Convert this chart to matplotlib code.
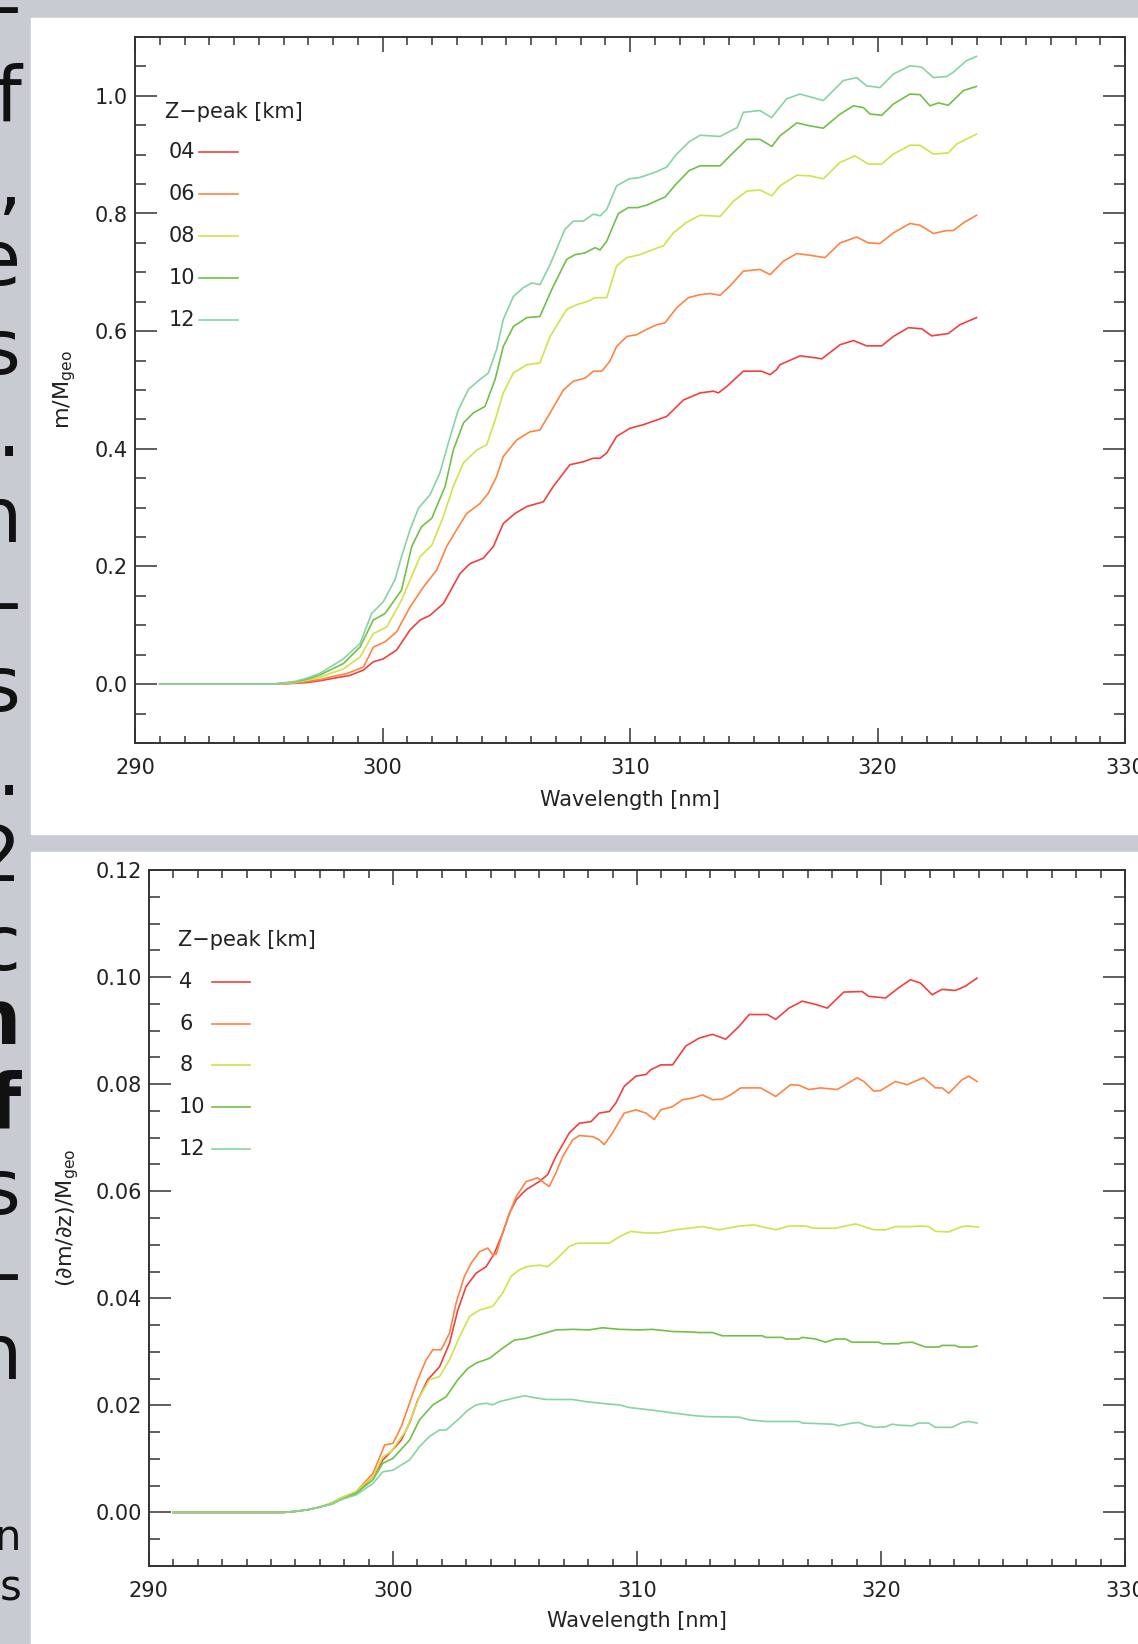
"""
Two-panel plot: relative SO2 sensitivity m/M_geo and its height derivative
versus wavelength, for plume peak heights of 4-12 km.
"""
import matplotlib
matplotlib.use("Agg")
import matplotlib.pyplot as plt
from matplotlib.patches import Rectangle
from matplotlib.ticker import MultipleLocator, FormatStrFormatter

W, H = 1138, 1644
GREY = "#c8ccd2"
SPINE = "#333333"
FONT = 15

HEIGHTS = ["04", "06", "08", "10", "12"]
HEIGHTS_SHORT = ["4", "6", "8", "10", "12"]
COLORS = ["#f2403f", "#ff8444", "#d2e24a", "#72c04a", "#86d4a4"]

# ---- top panel: m / M_geo ---------------------------------------------------
WL_M_04 = [291.0, 295.5, 296.0, 296.5, 297.0, 297.5, 297.88, 298.69, 299.23, 299.63,
           300.03, 300.57, 301.11, 301.52, 301.92, 302.46, 303.13, 303.54, 304.07,
           304.48, 304.88, 305.35, 305.83, 306.50, 306.90, 307.57, 308.11, 308.52,
           308.79, 309.06, 309.46, 310.00, 310.54, 310.94, 311.48, 312.16, 312.83,
           313.37, 313.57, 313.91, 314.58, 315.32, 315.66, 315.93, 316.06, 316.87,
           317.27, 317.75, 318.49, 319.03, 319.56, 320.17, 320.64, 321.25, 321.79,
           322.19, 322.86, 323.33, 324.0]
M_04 = [0.0, 0.0, 0.0005, 0.0015, 0.003, 0.006, 0.009, 0.015, 0.024, 0.038,
        0.043, 0.058, 0.092, 0.109, 0.117, 0.137, 0.188, 0.205, 0.214,
        0.234, 0.273, 0.290, 0.302, 0.310, 0.336, 0.373, 0.378, 0.384,
        0.384, 0.393, 0.421, 0.435, 0.441, 0.447, 0.455, 0.483, 0.495,
        0.498, 0.495, 0.506, 0.532, 0.532, 0.526, 0.535, 0.543, 0.558,
        0.556, 0.553, 0.577, 0.584, 0.575, 0.575, 0.591, 0.606, 0.604,
        0.592, 0.596, 0.611, 0.623]

WL_M_06 = [291.0, 295.5, 296.0, 296.5, 297.0, 297.5, 297.88, 298.55, 299.23, 299.63,
           300.10, 300.57, 301.11, 301.65, 302.19, 302.59, 302.99, 303.40, 303.94,
           304.28, 304.61, 304.88, 305.42, 305.96, 306.36, 306.77, 307.31, 307.71,
           308.18, 308.52, 308.86, 309.19, 309.46, 309.87, 310.27, 310.67, 311.08,
           311.41, 311.89, 312.36, 312.83, 313.23, 313.64, 314.04, 314.58, 315.25,
           315.66, 316.20, 316.74, 317.27, 317.88, 318.49, 319.16, 319.63, 320.10,
           320.64, 321.31, 321.72, 322.26, 322.80, 323.06, 323.47, 324.0]
M_06 = [0.0, 0.0, 0.001, 0.002, 0.005, 0.008, 0.012, 0.018, 0.029, 0.063,
        0.072, 0.089, 0.131, 0.165, 0.194, 0.234, 0.262, 0.290, 0.307,
        0.325, 0.353, 0.387, 0.415, 0.429, 0.432, 0.461, 0.500, 0.515,
        0.520, 0.532, 0.532, 0.549, 0.574, 0.591, 0.594, 0.603, 0.611,
        0.614, 0.640, 0.657, 0.662, 0.664, 0.661, 0.677, 0.702, 0.705,
        0.696, 0.719, 0.732, 0.729, 0.725, 0.750, 0.760, 0.750, 0.749,
        0.767, 0.783, 0.780, 0.766, 0.771, 0.771, 0.784, 0.797]

WL_M_08 = [291.0, 295.5, 296.0, 296.5, 297.0, 297.5, 297.88, 298.42, 299.09, 299.63,
           300.17, 300.77, 301.52, 301.99, 302.46, 302.86, 303.27, 303.81, 304.21,
           304.55, 304.88, 305.29, 305.83, 306.36, 306.77, 307.44, 307.85, 308.32,
           308.59, 309.06, 309.46, 309.87, 310.40, 310.94, 311.35, 311.75, 312.29,
           312.83, 313.30, 313.64, 314.18, 314.72, 315.25, 315.73, 316.06, 316.74,
           317.27, 317.81, 318.49, 319.09, 319.63, 320.17, 320.64, 321.31, 321.72,
           322.26, 322.86, 323.20, 324.0]
M_08 = [0.0, 0.0, 0.001, 0.003, 0.007, 0.012, 0.018, 0.026, 0.046, 0.086,
        0.097, 0.143, 0.217, 0.236, 0.285, 0.336, 0.376, 0.398, 0.407,
        0.449, 0.495, 0.529, 0.543, 0.546, 0.591, 0.637, 0.645, 0.651,
        0.657, 0.657, 0.711, 0.725, 0.730, 0.739, 0.745, 0.767, 0.785,
        0.797, 0.796, 0.795, 0.821, 0.838, 0.840, 0.830, 0.847, 0.865,
        0.864, 0.859, 0.887, 0.898, 0.884, 0.884, 0.901, 0.916, 0.916,
        0.901, 0.903, 0.918, 0.935]

WL_M_10 = [291.0, 295.5, 296.0, 296.5, 297.0, 297.5, 297.88, 298.42, 299.09, 299.63,
           300.10, 300.77, 301.18, 301.58, 301.99, 302.53, 302.86, 303.27, 303.67,
           304.14, 304.55, 304.88, 305.29, 305.83, 306.36, 306.84, 307.44, 307.78,
           308.18, 308.59, 308.79, 309.06, 309.53, 309.93, 310.31, 310.73, 311.14,
           311.42, 311.84, 312.39, 312.83, 313.64, 314.04, 314.72, 315.25, 315.73,
           316.06, 316.74, 317.27, 317.81, 318.49, 319.03, 319.43, 319.70, 320.17,
           320.64, 321.31, 321.72, 322.12, 322.46, 322.86, 323.47, 324.0]
M_10 = [0.0, 0.0, 0.002, 0.004, 0.009, 0.016, 0.024, 0.035, 0.063, 0.109,
        0.120, 0.160, 0.234, 0.268, 0.282, 0.336, 0.398, 0.444, 0.461,
        0.472, 0.518, 0.574, 0.608, 0.623, 0.625, 0.671, 0.722, 0.730,
        0.733, 0.742, 0.738, 0.753, 0.800, 0.810, 0.810, 0.815, 0.823,
        0.828, 0.849, 0.873, 0.881, 0.881, 0.898, 0.926, 0.926, 0.914,
        0.932, 0.954, 0.949, 0.945, 0.969, 0.983, 0.980, 0.969, 0.967,
        0.986, 1.003, 1.002, 0.983, 0.988, 0.984, 1.009, 1.016]

WL_M_12 = [291.0, 295.5, 296.0, 296.5, 297.0, 297.5, 297.88, 298.42, 299.09, 299.56,
           300.03, 300.50, 300.77, 301.11, 301.45, 301.92, 302.32, 302.66, 303.06,
           303.47, 303.94, 304.28, 304.61, 304.88, 305.29, 305.69, 306.03, 306.36,
           306.77, 307.37, 307.71, 308.11, 308.52, 308.79, 309.06, 309.46, 309.97,
           310.38, 311.01, 311.49, 311.84, 312.39, 312.83, 313.64, 314.33, 314.58,
           315.25, 315.72, 316.33, 316.87, 317.81, 318.62, 319.16, 319.56, 320.10,
           320.64, 321.31, 321.78, 322.26, 322.80, 323.06, 323.60, 324.0]
M_12 = [0.0, 0.0, 0.002, 0.005, 0.011, 0.019, 0.029, 0.043, 0.069, 0.120,
        0.140, 0.177, 0.217, 0.262, 0.299, 0.322, 0.359, 0.410, 0.466,
        0.501, 0.518, 0.529, 0.569, 0.620, 0.659, 0.674, 0.682, 0.679,
        0.713, 0.773, 0.787, 0.787, 0.799, 0.796, 0.807, 0.847, 0.859,
        0.861, 0.870, 0.879, 0.899, 0.922, 0.933, 0.931, 0.946, 0.972,
        0.975, 0.963, 0.995, 1.003, 0.992, 1.026, 1.031, 1.017, 1.014,
        1.037, 1.051, 1.049, 1.031, 1.033, 1.040, 1.060, 1.067]

# ---- bottom panel: (dm/dz) / M_geo ------------------------------------------
WL_D_04 = [291.0, 295.5, 296.0, 296.5, 297.0, 297.5, 297.82, 298.50, 299.18, 299.59,
           299.93, 300.34, 300.68, 301.02, 301.43, 301.91, 302.32, 302.66, 303.00,
           303.41, 303.82, 304.16, 304.50, 304.78, 305.05, 305.46, 306.00, 306.34,
           306.68, 307.23, 307.64, 308.12, 308.46, 308.87, 309.14, 309.48, 309.96,
           310.37, 310.57, 310.98, 311.46, 312.00, 312.55, 313.10, 313.64, 314.19,
           314.60, 315.35, 315.69, 316.23, 316.78, 317.32, 317.80, 318.48, 319.23,
           319.50, 320.19, 320.73, 321.21, 321.62, 322.10, 322.50, 323.05, 323.46,
           323.94]
D_04 = [0.0, 0.0, 0.0002, 0.0005, 0.0010, 0.0016, 0.0023, 0.0036, 0.0067, 0.0098,
        0.0114, 0.0135, 0.0167, 0.0210, 0.0248, 0.0272, 0.0316, 0.0378, 0.0422,
        0.0447, 0.0459, 0.0484, 0.0522, 0.0559, 0.0584, 0.0603, 0.0618, 0.0631,
        0.0665, 0.0709, 0.0727, 0.0730, 0.0746, 0.0749, 0.0765, 0.0796, 0.0815,
        0.0818, 0.0827, 0.0836, 0.0836, 0.0871, 0.0886, 0.0893, 0.0884, 0.0908,
        0.0930, 0.0930, 0.0921, 0.0942, 0.0955, 0.0949, 0.0942, 0.0972, 0.0973,
        0.0964, 0.0961, 0.0980, 0.0995, 0.0989, 0.0967, 0.0977, 0.0975, 0.0983,
        0.0998]

WL_D_06 = [291.0, 295.5, 296.0, 296.5, 297.0, 297.5, 297.82, 298.50, 299.18, 299.52,
           299.66, 300.00, 300.34, 300.68, 301.02, 301.36, 301.64, 301.98, 302.32,
           302.59, 302.93, 303.21, 303.55, 303.89, 304.09, 304.23, 304.50, 304.78,
           305.05, 305.46, 305.93, 306.21, 306.41, 306.68, 306.96, 307.37, 307.64,
           308.19, 308.46, 308.66, 309.00, 309.48, 309.96, 310.37, 310.71, 310.98,
           311.46, 311.87, 312.28, 312.69, 313.10, 313.50, 313.84, 314.25, 315.07,
           315.69, 316.30, 316.64, 317.05, 317.53, 318.21, 318.55, 319.03, 319.30,
           319.71, 319.98, 320.60, 321.07, 321.75, 322.23, 322.51, 322.78, 323.32,
           323.60, 323.94]
D_06 = [0.0, 0.0, 0.0002, 0.0005, 0.0010, 0.0018, 0.0026, 0.0039, 0.0073, 0.0110,
        0.0126, 0.0129, 0.0160, 0.0204, 0.0248, 0.0285, 0.0304, 0.0304, 0.0335,
        0.0391, 0.0441, 0.0466, 0.0487, 0.0494, 0.0481, 0.0482, 0.0522, 0.0559,
        0.0590, 0.0618, 0.0625, 0.0615, 0.0609, 0.0634, 0.0665, 0.0696, 0.0704,
        0.0702, 0.0696, 0.0687, 0.0709, 0.0746, 0.0752, 0.0746, 0.0734, 0.0752,
        0.0758, 0.0771, 0.0774, 0.0780, 0.0771, 0.0772, 0.0780, 0.0793, 0.0793,
        0.0777, 0.0799, 0.0798, 0.0790, 0.0793, 0.0790, 0.0799, 0.0812, 0.0805,
        0.0787, 0.0788, 0.0805, 0.0799, 0.0812, 0.0793, 0.0793, 0.0783, 0.0808,
        0.0815, 0.0805]

WL_D_08 = [291.0, 295.5, 296.0, 296.5, 297.0, 297.5, 297.82, 298.50, 299.18, 299.59,
           299.93, 300.55, 301.09, 301.50, 301.91, 302.32, 302.73, 303.14, 303.55,
           304.09, 304.50, 304.84, 305.18, 305.46, 306.00, 306.34, 306.68, 307.23,
           307.57, 308.19, 308.87, 309.28, 309.75, 310.37, 310.91, 311.59, 312.14,
           312.69, 313.37, 314.19, 314.80, 315.69, 316.23, 316.91, 317.25, 318.14,
           318.96, 319.71, 320.19, 320.60, 321.28, 321.62, 321.96, 322.23, 322.78,
           323.32, 323.60, 324.0]
D_08 = [0.0, 0.0, 0.0002, 0.0005, 0.0010, 0.0018, 0.0026, 0.0039, 0.0067, 0.0104,
        0.0114, 0.0154, 0.0216, 0.0248, 0.0254, 0.0285, 0.0328, 0.0366, 0.0378,
        0.0385, 0.0410, 0.0441, 0.0453, 0.0459, 0.0462, 0.0459, 0.0472, 0.0497,
        0.0503, 0.0503, 0.0503, 0.0515, 0.0525, 0.0522, 0.0522, 0.0528, 0.0531,
        0.0534, 0.0528, 0.0535, 0.0537, 0.0528, 0.0535, 0.0535, 0.0531, 0.0531,
        0.0539, 0.0528, 0.0528, 0.0534, 0.0534, 0.0535, 0.0534, 0.0525, 0.0524,
        0.0534, 0.0535, 0.0533]

WL_D_10 = [291.0, 295.5, 296.0, 296.5, 297.0, 297.5, 297.82, 298.50, 299.18, 299.59,
           300.00, 300.68, 301.09, 301.64, 302.18, 302.66, 303.07, 303.41, 303.96,
           304.50, 304.98, 305.46, 306.00, 306.68, 307.37, 308.05, 308.59, 309.28,
           310.09, 310.64, 311.46, 312.28, 312.55, 313.10, 313.50, 315.14, 315.28,
           315.96, 316.10, 316.64, 316.78, 317.32, 317.73, 318.14, 318.55, 318.82,
           319.91, 320.05, 320.73, 320.87, 321.28, 321.82, 322.37, 322.50, 323.05,
           323.19, 323.73, 323.94]
D_10 = [0.0, 0.0, 0.0002, 0.0005, 0.0010, 0.0016, 0.0023, 0.0036, 0.0061, 0.0092,
        0.0101, 0.0135, 0.0173, 0.0201, 0.0216, 0.0248, 0.0269, 0.0279, 0.0288,
        0.0307, 0.0322, 0.0325, 0.0332, 0.0341, 0.0342, 0.0341, 0.0345, 0.0342,
        0.0341, 0.0342, 0.0338, 0.0337, 0.0336, 0.0336, 0.0330, 0.0330, 0.0327,
        0.0327, 0.0324, 0.0324, 0.0327, 0.0324, 0.0318, 0.0324, 0.0324, 0.0318,
        0.0318, 0.0315, 0.0315, 0.0317, 0.0318, 0.0309, 0.0309, 0.0312, 0.0312,
        0.0309, 0.0309, 0.0311]

WL_D_12 = [291.0, 295.5, 296.0, 296.5, 297.0, 297.5, 297.82, 298.50, 299.18, 299.59,
           300.00, 300.68, 301.09, 301.50, 301.91, 302.18, 302.66, 303.07, 303.41,
           303.82, 304.09, 304.36, 304.91, 305.39, 305.73, 306.28, 307.37, 307.91,
           308.73, 309.28, 309.69, 310.64, 311.46, 312.14, 312.55, 312.96, 314.19,
           314.60, 315.28, 316.64, 316.78, 318.00, 318.28, 318.82, 319.10, 319.37,
           319.78, 320.19, 320.46, 320.73, 321.28, 321.55, 321.96, 322.23, 322.91,
           323.32, 323.60, 323.94]
D_12 = [0.0, 0.0, 0.0002, 0.0005, 0.0010, 0.0016, 0.0023, 0.0033, 0.0054, 0.0076,
        0.0079, 0.0098, 0.0123, 0.0142, 0.0154, 0.0154, 0.0173, 0.0191, 0.0201,
        0.0204, 0.0201, 0.0207, 0.0213, 0.0218, 0.0215, 0.0211, 0.0211, 0.0207,
        0.0203, 0.0201, 0.0196, 0.0191, 0.0186, 0.0182, 0.0180, 0.0179, 0.0178,
        0.0173, 0.0170, 0.0170, 0.0167, 0.0165, 0.0162, 0.0167, 0.0168, 0.0163,
        0.0159, 0.0160, 0.0165, 0.0163, 0.0162, 0.0167, 0.0167, 0.0159, 0.0159,
        0.0168, 0.0170, 0.0167]

TOP_SERIES = [(WL_M_04, M_04), (WL_M_06, M_06), (WL_M_08, M_08),
              (WL_M_10, M_10), (WL_M_12, M_12)]
BOTTOM_SERIES = [(WL_D_04, D_04), (WL_D_06, D_06), (WL_D_08, D_08),
                 (WL_D_10, D_10), (WL_D_12, D_12)]


def style_axes(ax, ymajor, yminor, yfmt):
    ax.set_xlim(290, 330)
    ax.xaxis.set_major_locator(MultipleLocator(10))
    ax.xaxis.set_minor_locator(MultipleLocator(1))
    ax.yaxis.set_major_locator(MultipleLocator(ymajor))
    ax.yaxis.set_minor_locator(MultipleLocator(yminor))
    ax.yaxis.set_major_formatter(FormatStrFormatter(yfmt))
    ax.tick_params(which="both", direction="in", top=True, right=True,
                   width=1.1, color=SPINE, labelsize=FONT, labelcolor="#222")
    ax.tick_params(axis="x", which="major", length=10.8, pad=11)
    ax.tick_params(axis="x", which="minor", length=5.4)
    ax.tick_params(axis="y", which="major", length=15.5, pad=5)
    ax.tick_params(axis="y", which="minor", length=7.8)
    for sp in ax.spines.values():
        sp.set_linewidth(1.4)
        sp.set_color(SPINE)
    ax.set_xlabel("Wavelength [nm]", fontsize=FONT, color="#222")


def draw_legend(ax, labels, label_x, label_ha, line_x0, line_x1, title_y, ys):
    ax.text(0.030, title_y, "Z\u2212peak [km]", transform=ax.transAxes,
            ha="left", va="center", fontsize=FONT, color="#222")
    for lab, y, col in zip(labels, ys, COLORS):
        ax.text(label_x, y, lab, transform=ax.transAxes, ha=label_ha,
                va="center", fontsize=FONT, color="#222")
        ax.plot([line_x0, line_x1], [y, y], color=col, lw=1.2,
                transform=ax.transAxes, clip_on=False)


def draw_background(fig):
    fig.patch.set_facecolor(GREY)
    fig.add_artist(Rectangle((31 / W, (H - 834) / H), 1, (834 - 18) / H,
                             transform=fig.transFigure, color="white", zorder=-2))
    fig.add_artist(Rectangle((31 / W, 0), 1, (H - 852) / H,
                             transform=fig.transFigure, color="white", zorder=-2))
    # tail ends of a neighbouring text column, cut by the screenshot edge
    chars = [("-", 31, 55, "normal"), ("f", 121, 55, "normal"),
             (",", 206, 55, "normal"), ("e", 285, 55, "normal"),
             ("s", 374, 55, "normal"), (".", 456, 55, "normal"),
             ("n", 542, 55, "normal"), ("-", 627, 55, "normal"),
             ("s", 711, 55, "normal"), (".", 795, 55, "normal"),
             ("2", 881, 55, "normal"), ("c", 970, 55, "normal"),
             ("n", 1044, 55, "bold"), ("f", 1127, 55, "bold"),
             ("s", 1214, 55, "normal"), ("-", 1298, 55, "normal"),
             ("n", 1379, 55, "normal"), ("n", 1550, 30, "normal"),
             ("s", 1600, 30, "normal")]
    for ch, base, size, weight in chars:
        fig.text(21 / W, (H - base) / H, ch, ha="right", va="baseline",
                 fontsize=size, fontweight=weight, color="#111111", zorder=-1)


def main():
    fig = plt.figure(figsize=(W / 100, H / 100), dpi=100)
    draw_background(fig)

    ax1 = fig.add_axes([135 / W, (H - 743) / H, 990 / W, 706 / H])
    for (wl, vals), col in zip(TOP_SERIES, COLORS):
        ax1.plot(wl, vals, color=col, lw=1.2)
    style_axes(ax1, 0.2, 0.05, "%.1f")
    ax1.set_ylim(-0.1, 1.1)
    ax1.set_ylabel(r"m/M$_{\mathrm{geo}}$", fontsize=16, color="#222")
    ax1.yaxis.set_label_coords(-0.058, 0.5)
    ax1.xaxis.set_label_coords(0.5, -0.066)
    draw_legend(ax1, HEIGHTS, 0.0606, "right", 0.0646, 0.104, 0.894,
                [0.837, 0.778, 0.718, 0.659, 0.599])

    ax2 = fig.add_axes([148.9 / W, (H - 1566) / H, 976 / W, 696 / H])
    for (wl, vals), col in zip(BOTTOM_SERIES, COLORS):
        ax2.plot(wl, vals, color=col, lw=1.2)
    style_axes(ax2, 0.02, 0.005, "%.2f")
    ax2.set_ylim(-0.01, 0.12)
    ax2.set_ylabel(r"($\partial$m/$\partial$z)/M$_{\mathrm{geo}}$",
                   fontsize=16, color="#222")
    ax2.yaxis.set_label_coords(-0.07, 0.5)
    ax2.xaxis.set_label_coords(0.5, -0.065)
    draw_legend(ax2, HEIGHTS_SHORT, 0.031, "left", 0.065, 0.1035, 0.899,
                [0.8395, 0.7792, 0.7194, 0.6595, 0.5996])

    fig.savefig("out.png", dpi=100)
    plt.close(fig)


if __name__ == "__main__":
    main()
